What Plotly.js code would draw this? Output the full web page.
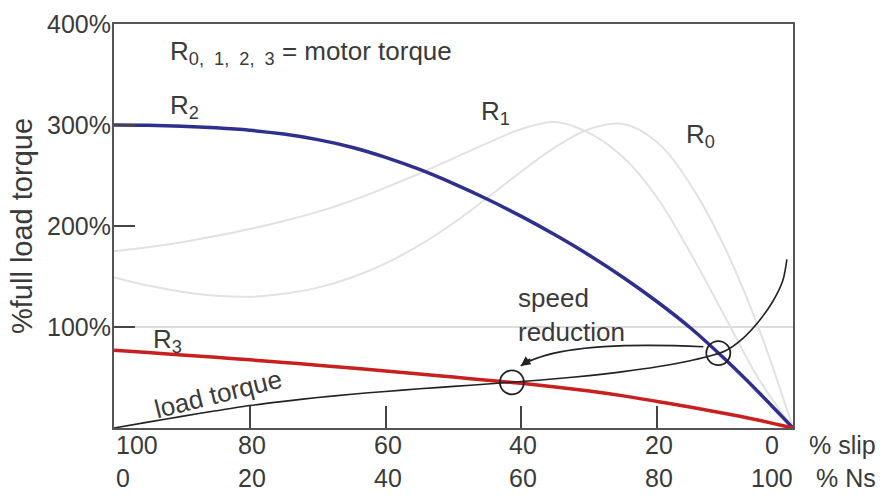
<!DOCTYPE html>
<html>
<head>
<meta charset="utf-8">
<script src="https://cdn.plot.ly/plotly-3.0.1.min.js"></script>
<style>html,body{margin:0;padding:0;background:#fff}#chart{width:887px;height:497px}</style>
</head>
<body>
<div id="chart"></div>
<script>
// ---- data (x = % of synchronous speed Ns, y = % full load torque) ----
const nsGrid = [0, 5, 10, 15, 20, 25, 30, 35, 40, 45, 50, 55, 60, 65, 70, 75, 80, 85, 90, 95, 100];
const torqueR0 = [149, 141, 135, 131, 130, 133, 139, 149, 163, 181, 203, 228, 254, 278, 296, 301, 283, 240, 178, 98, 0];
const torqueR1 = [175, 179, 184, 190, 197, 205, 214, 225, 238, 252, 267, 282, 296, 303, 292, 268, 228, 172, 110, 48, 0];
const torqueR2 = [300, 299.7, 298.8, 297.2, 294.8, 291, 285.5, 278, 268, 256, 242, 226.5, 209.5, 191, 171, 149, 125, 98.5, 68, 35, 0];
const torqueR3 = [77, 74.7, 72.4, 70, 67.5, 64.9, 62.2, 59.4, 56.5, 53.5, 50.4, 47.3, 44.2, 40.7, 36.6, 31.8, 26.3, 20.6, 14.4, 7.6, 0];

const nsLoad = [0, 5, 10, 15, 20, 25, 30, 35, 40, 45, 50, 55, 60, 65, 70, 75, 80, 85, 90, 92.5, 95, 97, 98.5, 99.1];
const torqueLoad = [0, 5.8, 11.5, 17, 22.2, 26.4, 30.2, 33.4, 36.2, 38.8, 41.2, 43.6, 46, 48.7, 51.9, 55.8, 60.6, 66.8, 76.3, 88, 106, 125, 146, 167];

// operating points (load torque meets motor torque)
const operatingNs = [89, 58.6];
const operatingTorque = [74.2, 45.2];

// ticks
const xTickVals = [0, 20, 40, 60, 80, 100];
const slipLabels = ['100', '80', '60', '40', '20', '0'];
const nsLabels = ['0', '20', '40', '60', '80', '100'];
const yTickVals = [100, 200, 300, 400];
const yTickLabels = ['100%', '200%', '300%', '400%'];

// ---- drawing ----
const FONT = 'Liberation Sans, Arial, Helvetica, sans-serif';
const TXT = '#3a3a3a';
const GRAY = '#e2e2e2';

const traces = [
  {x: nsGrid, y: torqueR0, mode: 'lines', line: {color: GRAY, width: 2, shape: 'spline'}},
  {x: nsGrid, y: torqueR1, mode: 'lines', line: {color: GRAY, width: 2, shape: 'spline'}},
  {x: nsGrid, y: torqueR2, mode: 'lines', line: {color: '#2f2f8e', width: 3.5, shape: 'spline'}},
  {x: nsGrid, y: torqueR3, mode: 'lines', line: {color: '#c8201f', width: 3.5, shape: 'spline'}},
  {x: nsLoad, y: torqueLoad, mode: 'lines', line: {color: '#222', width: 1.6, shape: 'spline', smoothing: 0.8}}
];

const annotations = [];
xTickVals.forEach((v, i) => {
  const last = i === xTickVals.length - 1;
  const first = i === 0;
  [[slipLabels[i], -17], [nsLabels[i], -50]].forEach(([t, ys]) => {
    annotations.push({
      x: v, y: 0, xref: 'x', yref: 'y', text: t, showarrow: false,
      xanchor: first ? 'left' : 'center', yanchor: 'middle',
      xshift: first ? 0 : (last ? -21 : 2), yshift: ys,
      font: {family: FONT, size: 25, color: TXT}
    });
  });
});
const lab = {family: FONT, size: 26, color: TXT};
annotations.push(
  {x: 1, y: 0, xref: 'paper', yref: 'y', text: '% slip', showarrow: false, xanchor: 'left', yanchor: 'middle', xshift: 14, yshift: -17, font: {family: FONT, size: 25, color: TXT}},
  {x: 1, y: 0, xref: 'paper', yref: 'y', text: '% Ns', showarrow: false, xanchor: 'left', yanchor: 'middle', xshift: 21, yshift: -50, font: {family: FONT, size: 25, color: TXT}},
  {x: 8.0, y: 372, text: 'R<sub>0,  1,  2,  3</sub> = motor torque', showarrow: false, xanchor: 'left', yanchor: 'middle', font: lab},
  {x: 8.0, y: 318, text: 'R<sub>2</sub>', showarrow: false, xanchor: 'left', yanchor: 'middle', font: lab},
  {x: 53.7, y: 312, text: 'R<sub>1</sub>', showarrow: false, xanchor: 'left', yanchor: 'middle', font: lab},
  {x: 84.0, y: 290, text: 'R<sub>0</sub>', showarrow: false, xanchor: 'left', yanchor: 'middle', font: lab},
  {x: 5.5, y: 87, text: 'R<sub>3</sub>', showarrow: false, xanchor: 'left', yanchor: 'middle', font: lab},
  {x: 15.3, y: 34, text: 'load torque', showarrow: false, textangle: -14, font: lab},
  {x: 59.2, y: 112, text: 'speed<br>reduction', showarrow: false, xanchor: 'left', yanchor: 'middle', align: 'left', font: lab},
  // arrow head of the speed-reduction arrow
  {x: 59.9, y: 61.5, ax: 11, ay: -8, axref: 'pixel', ayref: 'pixel', text: '', showarrow: true, arrowhead: 2, arrowsize: 1.2, arrowwidth: 1.6, arrowcolor: '#222', standoff: 0}
);

const shapes = [
  {type: 'line', xref: 'paper', yref: 'y', x0: 0, x1: 1, y0: 100, y1: 100, line: {color: '#dcdcdc', width: 2}, layer: 'below'},
  {type: 'path', xref: 'x', yref: 'y', path: 'M 86.8 80.4 Q 65.7 87.3 59.9 61.5', line: {color: '#222', width: 1.6}}
];
operatingNs.forEach((n, i) => {
  shapes.push({type: 'circle', xref: 'x', yref: 'y', xsizemode: 'pixel', ysizemode: 'pixel',
    xanchor: n, yanchor: operatingTorque[i], x0: -12, x1: 12, y0: -12, y1: 12,
    line: {color: '#222', width: 1.8}});
});

const layout = {
  width: 887, height: 497,
  margin: {l: 114, r: 94, t: 24, b: 69},
  paper_bgcolor: '#fff', plot_bgcolor: '#fff',
  showlegend: false,
  font: {family: FONT, color: TXT},
  xaxis: {
    range: [0, 100], tickvals: xTickVals, showticklabels: false,
    ticks: 'inside', ticklen: 22, tickwidth: 2, tickcolor: '#444',
    showline: true, linecolor: '#555', linewidth: 2, mirror: true,
    showgrid: false, zeroline: false, fixedrange: true
  },
  yaxis: {
    range: [0, 400], tickvals: yTickVals, ticktext: yTickLabels,
    ticks: 'inside', ticklen: 21, tickwidth: 2, tickcolor: '#444',
    tickfont: {family: FONT, size: 25, color: TXT}, ticklabelstandoff: -4,
    showline: true, linecolor: '#555', linewidth: 2, mirror: true,
    showgrid: false, zeroline: false, fixedrange: true,
    title: {text: '%full load torque', font: {family: FONT, size: 29, color: TXT}, standoff: 6}
  },
  annotations: annotations,
  shapes: shapes
};

Plotly.newPlot('chart', traces, layout, {displayModeBar: false, staticPlot: true});
</script>
</body>
</html>
